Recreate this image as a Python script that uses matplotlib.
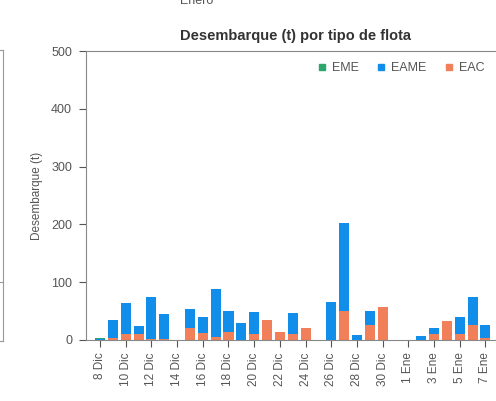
import matplotlib.pyplot as plt
import numpy as np
from matplotlib.lines import Line2D

plt.rcParams['font.family'] = ['Liberation Sans', 'DejaVu Sans']

# daily landings (t), 8 Dic .. 7 Ene
days = ['8 Dic', '9 Dic', '10 Dic', '11 Dic', '12 Dic', '13 Dic', '14 Dic', '15 Dic',
        '16 Dic', '17 Dic', '18 Dic', '19 Dic', '20 Dic', '21 Dic', '22 Dic', '23 Dic',
        '24 Dic', '25 Dic', '26 Dic', '27 Dic', '28 Dic', '29 Dic', '30 Dic', '31 Dic',
        '1 Ene', '2 Ene', '3 Ene', '4 Ene', '5 Ene', '6 Ene', '7 Ene']
eac = [0, 3, 11, 10, 2, 1, 0, 21, 12, 5, 14, 0, 10, 34, 14, 10,
       21, 0, 0, 51, 0, 26, 57, 0, 0, 0, 10, 33, 11, 26, 4]
eame = [2, 32, 53, 14, 72, 44, 0, 32, 27, 84, 37, 29, 38, 0, 0, 37,
        0, 0, 66, 151, 9, 25, 0, 0, 0, 7, 10, 0, 28, 48, 22]
eme = [1, 0, 0, 0, 0, 0, 0, 0, 0, 0, 0, 0, 0, 0, 0, 0,
       0, 0, 0, 0, 0, 0, 0, 0, 0, 0, 0, 0, 0, 0, 0]

c_eme = '#2ca66a'
c_eame = '#108ee9'
c_eac = '#f07f5a'
grey = '#555555'

fig = plt.figure(figsize=(4.96, 4.01), dpi=100)
ax = fig.add_axes([86 / 496, 61 / 401, 410 / 496, 289 / 401])

x = np.arange(len(days))
w = 0.78
eac_a = np.array(eac)
eame_a = np.array(eame)
ax.bar(x, eac, w, color=c_eac, label='EAC')
ax.bar(x, eame, w, bottom=eac_a, color=c_eame, label='EAME')
ax.bar(x, eme, w, bottom=eac_a + eame_a, color=c_eme, label='EME')

ax.set_xlim(-1.09, 30.82)
ax.set_ylim(0, 500)
ax.set_yticks([0, 100, 200, 300, 400, 500])
ax.set_xticks(x[::2])
ax.set_xticklabels(days[::2], rotation=90)
ax.tick_params(colors=grey, length=5, width=0.8)
ax.tick_params(axis='y', labelsize=9, pad=5)
ax.tick_params(axis='x', labelsize=8.5, pad=4)
for s in ['left', 'bottom', 'top']:
    ax.spines[s].set_color('#888888')
    ax.spines[s].set_linewidth(0.8)
ax.spines['right'].set_visible(False)
ax.set_ylabel('Desembarque (t)', fontsize=8.5, color=grey, labelpad=6)

h = [Line2D([], [], marker='s', ls='', color=c, markersize=4.5) for c in (c_eme, c_eame, c_eac)]
ax.legend(h, ['EME', 'EAME', 'EAC'], loc='upper right', ncol=3, frameon=False,
          fontsize=9, handlelength=1.0, handletextpad=0.3, columnspacing=1.3,
          bbox_to_anchor=(1.0, 1.0), labelcolor=grey)

fig.text(295 / 496, 1 - 36 / 401, 'Desembarque (t) por tipo de flota', ha='center', va='center',
         fontsize=10.5, fontweight='bold', color='#333333')
fig.text(197 / 496, 1 - 1 / 401, 'Enero', ha='center', va='center', fontsize=9, color='#555555')

# edge of the neighbouring panel
def fl(xs, ys):
    fig.add_artist(Line2D([v / 496 for v in xs], [1 - v / 401 for v in ys],
                          color='#999999', lw=0.8, transform=fig.transFigure))

fl([3, 3], [50, 341])
fl([0, 3], [50, 50])
fl([0, 3], [282, 282])
fl([0, 3], [341, 341])

fig.savefig('out.png', dpi=100)
